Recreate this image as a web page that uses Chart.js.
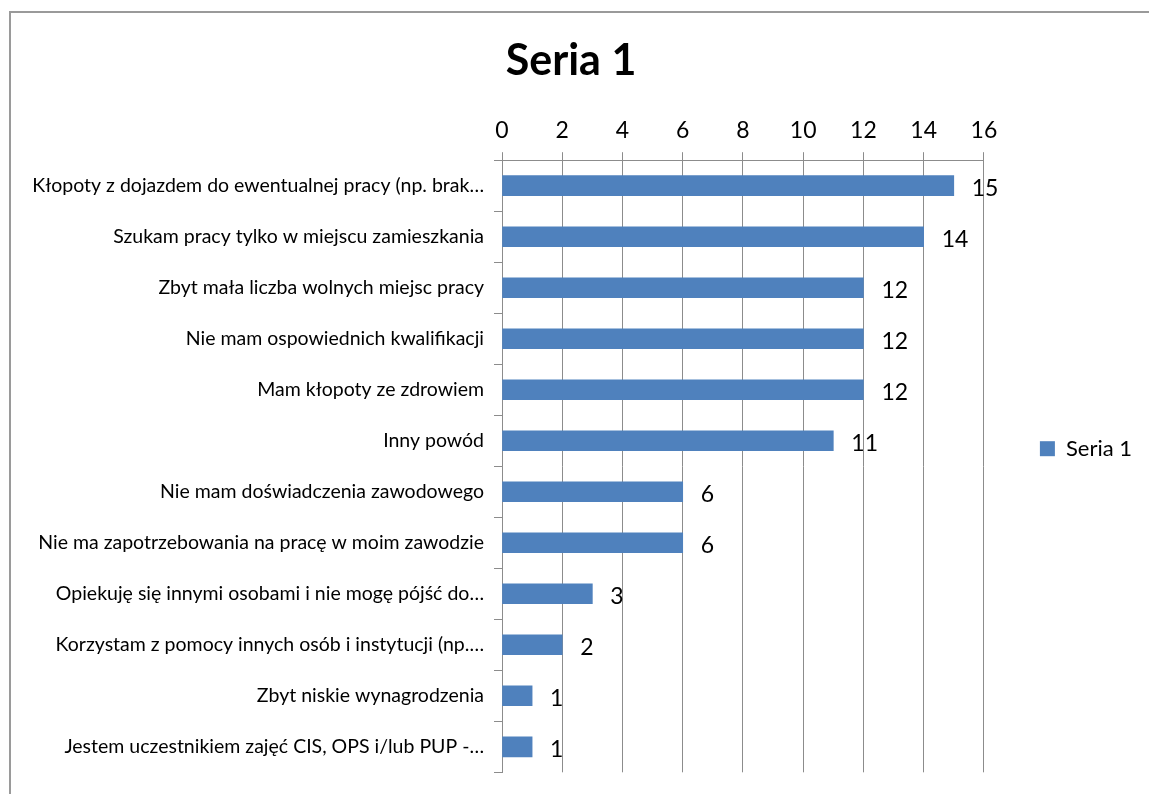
<!DOCTYPE html>
<html>
<head>
<meta charset="utf-8">
<script src="https://cdn.jsdelivr.net/npm/chart.js@4.4.0/dist/chart.umd.min.js"></script>
<style>
  html, body { margin: 0; padding: 0; background: #fff; }
  #wrap { position: absolute; left: 0; top: 0; width: 1149px; height: 794px; }
  #frame { position: absolute; left: 9px; top: 11px; width: 1200px; height: 900px;
           border-left: 2px solid #9a9a9a; border-top: 2px solid #9a9a9a; pointer-events: none; }
</style>
</head>
<body>
<div id="wrap"><canvas id="chart" width="1149" height="794"></canvas></div>
<div id="frame"></div>
<script>
'use strict';

// data
const categories = [
  "Kłopoty z dojazdem do ewentualnej pracy (np. brak…",
  "Szukam pracy tylko w miejscu zamieszkania",
  "Zbyt mała liczba wolnych miejsc pracy",
  "Nie mam ospowiednich kwalifikacji",
  "Mam kłopoty ze zdrowiem",
  "Inny powód",
  "Nie mam doświadczenia zawodowego",
  "Nie ma zapotrzebowania na pracę w moim zawodzie",
  "Opiekuję się innymi osobami i nie mogę pójść do…",
  "Korzystam z pomocy innych osób i instytucji (np.…",
  "Zbyt niskie wynagrodzenia",
  "Jestem uczestnikiem zajęć CIS, OPS i/lub PUP -…"
];
const seriesName = "Seria 1";
const values = [15, 14, 12, 12, 12, 11, 6, 6, 3, 2, 1, 1];
const axisMin = 0;
const axisMax = 16;
const axisStep = 2;

const FONT = "Lato, 'Open Sans', sans-serif";
const GRID = "#8c8c8c";

/**
 * value labels next to bars
 */
const valueLabels = {
  id: "valueLabels",
  afterDatasetsDraw(chart) {
    const ctx = chart.ctx;
    const meta = chart.getDatasetMeta(0);
    ctx.save();
    ctx.font = "23px " + FONT;
    ctx.fillStyle = "#000";
    ctx.textAlign = "left";
    ctx.textBaseline = "middle";
    meta.data.forEach(function (bar, i) {
      ctx.fillText(String(values[i]), bar.x + 18, bar.y + 3);
    });
    ctx.restore();
  }
};

const ctx = document.getElementById("chart").getContext("2d");
const chart = new Chart(ctx, {
  type: "bar",
  data: {
    labels: categories,
    datasets: [{
      label: seriesName,
      data: values,
      backgroundColor: "#4f81bd",
      borderWidth: 0,
      barThickness: 20
    }]
  },
  options: {
    indexAxis: "y",
    responsive: false,
    animation: false,
    layout: { padding: { left: 0, right: 7, top: 0, bottom: 19 } },
    scales: {
      x: {
        position: "top",
        min: axisMin,
        max: axisMax,
        ticks: { stepSize: axisStep, color: "#000", font: { family: FONT, size: 23 }, padding: 8 },
        grid: { color: GRID, lineWidth: 1, tickLength: 8 },
        border: { display: true, color: GRID, width: 1 }
      },
      y: {
        ticks: { color: "#000", font: { family: FONT, size: 19.5 }, padding: 10, autoSkip: false },
        grid: { display: true, drawOnChartArea: false, offset: true, color: GRID, tickLength: 8 },
        border: { display: true, color: GRID, width: 1 },
        afterFit: function (scale) { scale.width = 502; }
      },
      gap: {
        type: "linear",
        position: "right",
        display: true,
        ticks: { display: false },
        grid: { display: false },
        border: { display: false },
        afterFit: function (scale) { scale.width = 46; }
      }
    },
    plugins: {
      title: {
        display: true,
        text: seriesName,
        color: "#000",
        font: { family: FONT, size: 43, weight: "bold" },
        padding: { top: 35, bottom: 22 }
      },
      legend: {
        display: true,
        position: "right",
        title: { display: true, text: "", font: { size: 12 }, padding: { top: 108, bottom: 0 } },
        labels: {
          color: "#000",
          boxWidth: 15,
          boxHeight: 15,
          padding: 10,
          font: { family: FONT, size: 22 }
        }
      },
      tooltip: { enabled: false }
    }
  },
  plugins: [valueLabels]
});
</script>
</body>
</html>
